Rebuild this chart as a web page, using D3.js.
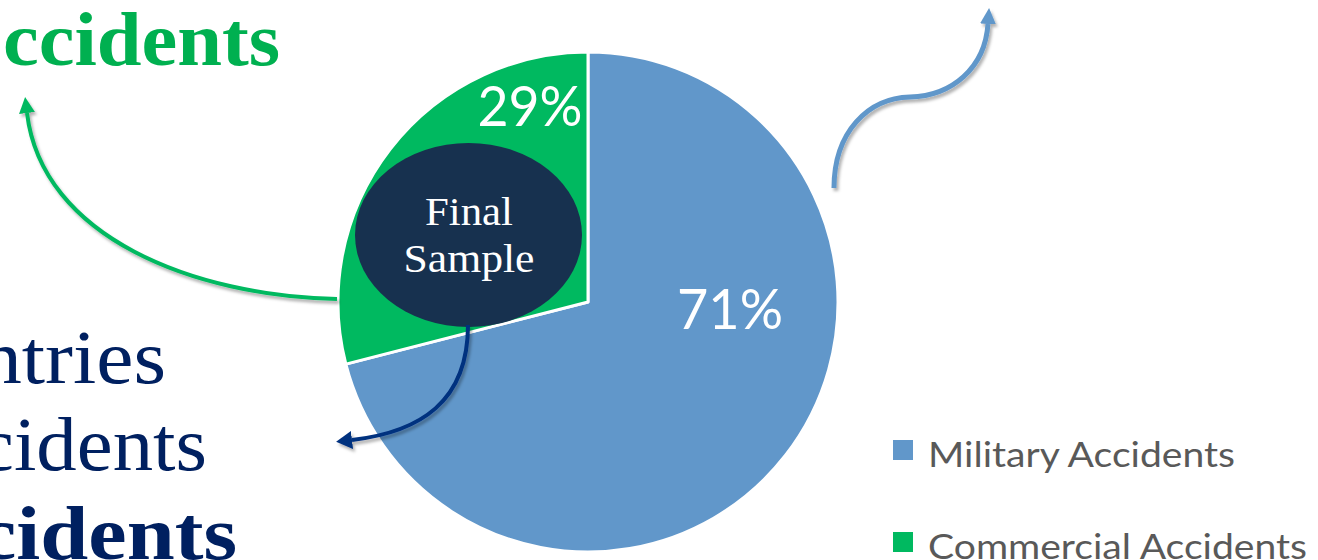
<!DOCTYPE html>
<html>
<head>
<meta charset="utf-8">
<script src="https://cdn.jsdelivr.net/npm/d3@7/dist/d3.min.js"></script>
<style>
  html, body { margin: 0; padding: 0; background: #ffffff; overflow: hidden; }
  svg { display: block; }
</style>
</head>
<body>
<svg id="chart" width="1318" height="560"></svg>
<script>
// Share of accidents by type
const categories = ["Military Accidents", "Commercial Accidents"];
const shares = [71, 29];
const shareLabels = ["71%", "29%"];

// Slide text that runs off the left edge
const headline = "ccidents";
const sideLines = ["ntries", "cidents", "cidents"];
const sampleLines = ["Final", "Sample"];

const W = 1318, H = 560;
const cx = 588, cy = 302, R = 250;
const colors = d3.scaleOrdinal().domain(categories).range(["#6197ca", "#00b960"]);
const navy = "#002060";
const serif = "'Liberation Serif', 'DejaVu Serif', serif";
const sans = "Lato, 'Open Sans', sans-serif";

const svg = d3.select("#chart");
const defs = svg.append("defs");

defs.append("filter").attr("id", "shadow")
  .attr("x", "-20%").attr("y", "-20%").attr("width", "140%").attr("height", "140%")
  .append("feDropShadow")
  .attr("dx", 2).attr("dy", 3).attr("stdDeviation", 1.6)
  .attr("flood-color", "#000").attr("flood-opacity", 0.3);

function marker(id, color, len, half) {
  defs.append("marker").attr("id", id)
    .attr("markerUnits", "userSpaceOnUse")
    .attr("viewBox", `0 ${-half} ${len} ${half * 2}`)
    .attr("refX", 0).attr("refY", 0)
    .attr("markerWidth", len).attr("markerHeight", half * 2)
    .attr("orient", "auto")
    .append("path")
    .attr("d", `M0,${-half}L${len},0L0,${half}Z`)
    .attr("fill", color);
}
marker("headGreen", "#00b960", 16, 8);
marker("headBlue", "#6197ca", 16, 8);
marker("headNavy", "#00307f", 16, 9);

// Pie
const pie = d3.pie().sort(null).value(d => d.value);
const arcs = pie(categories.map((c, i) => ({ key: c, value: shares[i], label: shareLabels[i] })));
const arc = d3.arc().innerRadius(0).outerRadius(R);

const g = svg.append("g").attr("transform", `translate(${cx},${cy})`);
g.selectAll("path.slice").data(arcs).join("path")
  .attr("class", "slice")
  .attr("d", arc)
  .attr("fill", d => colors(d.data.key))
  .attr("stroke", "#ffffff")
  .attr("stroke-width", 3)
  .attr("stroke-linejoin", "round");

// Data labels (placed in the open part of each slice)
const labelSpot = { "Military Accidents": [142, 27], "Commercial Accidents": [-58, -176] };
const labelWidth = { "Military Accidents": 106, "Commercial Accidents": 105 };
g.selectAll("text.pct").data(arcs).join("text")
  .attr("class", "pct")
  .attr("x", d => labelSpot[d.data.key][0])
  .attr("y", d => labelSpot[d.data.key][1])
  .attr("text-anchor", "middle")
  .attr("font-family", sans)
  .attr("font-size", 56)
  .attr("fill", "#ffffff")
  .attr("textLength", d => labelWidth[d.data.key])
  .attr("lengthAdjust", "spacingAndGlyphs")
  .text(d => d.data.label);

// "Final Sample" callout
svg.append("ellipse")
  .attr("cx", 468.5).attr("cy", 235).attr("rx", 113.5).attr("ry", 92)
  .attr("fill", "#17314f");
const sampleWidths = [88, 131];
svg.selectAll("text.sample").data(sampleLines).join("text")
  .attr("class", "sample")
  .attr("x", 469)
  .attr("y", (d, i) => 225 + i * 47)
  .attr("text-anchor", "middle")
  .attr("font-family", serif)
  .attr("font-size", 40)
  .attr("fill", "#ffffff")
  .attr("textLength", (d, i) => sampleWidths[i])
  .attr("lengthAdjust", "spacingAndGlyphs")
  .text(d => d);

// Curved arrows
svg.append("path")
  .attr("d", "M337,299 C195,296 42,238 27,113")
  .attr("fill", "none").attr("stroke", "#00b960").attr("stroke-width", 4)
  .attr("marker-end", "url(#headGreen)")
  .attr("filter", "url(#shadow)");

svg.append("path")
  .attr("d", "M834,188 C834,132 868,98 910,97 C952,96 985,68 988,24")
  .attr("fill", "none").attr("stroke", "#6197ca").attr("stroke-width", 5)
  .attr("marker-end", "url(#headBlue)")
  .attr("filter", "url(#shadow)");

svg.append("path")
  .attr("d", "M468,325 C468,402 420,432 352,440")
  .attr("fill", "none").attr("stroke", "#00307f").attr("stroke-width", 4)
  .attr("marker-end", "url(#headNavy)")
  .attr("filter", "url(#shadow)");

// Left-hand slide text
svg.append("text")
  .attr("x", 3).attr("y", 65)
  .attr("font-family", serif).attr("font-weight", "bold").attr("font-size", 76)
  .attr("fill", "#00b050")
  .attr("textLength", 277).attr("lengthAdjust", "spacingAndGlyphs")
  .text(headline);

const sideSpec = [
  { x0: -20, x1: 166, y: 383, bold: false },
  { x0: -22, x1: 207, y: 470, bold: false },
  { x0: -22, x1: 237, y: 559, bold: true }
];
svg.selectAll("text.side").data(sideLines).join("text")
  .attr("class", "side")
  .attr("x", (d, i) => sideSpec[i].x0)
  .attr("y", (d, i) => sideSpec[i].y)
  .attr("font-family", serif)
  .attr("font-weight", (d, i) => sideSpec[i].bold ? "bold" : "normal")
  .attr("font-size", 76)
  .attr("fill", navy)
  .attr("textLength", (d, i) => sideSpec[i].x1 - sideSpec[i].x0)
  .attr("lengthAdjust", "spacingAndGlyphs")
  .text(d => d);

// Legend
const legendY = d3.scalePoint().domain(categories).range([440, 532]);
const legendWidths = [307, 379];
const legend = svg.selectAll("g.legend").data(categories).join("g")
  .attr("class", "legend")
  .attr("transform", d => `translate(893,${legendY(d)})`);
legend.append("rect")
  .attr("width", 20).attr("height", 20)
  .attr("fill", d => colors(d));
legend.append("text")
  .attr("x", 35).attr("y", 27)
  .attr("font-family", sans).attr("font-size", 35)
  .attr("fill", "#595959")
  .attr("textLength", (d, i) => legendWidths[i])
  .attr("lengthAdjust", "spacingAndGlyphs")
  .text(d => d);
</script>
</body>
</html>
